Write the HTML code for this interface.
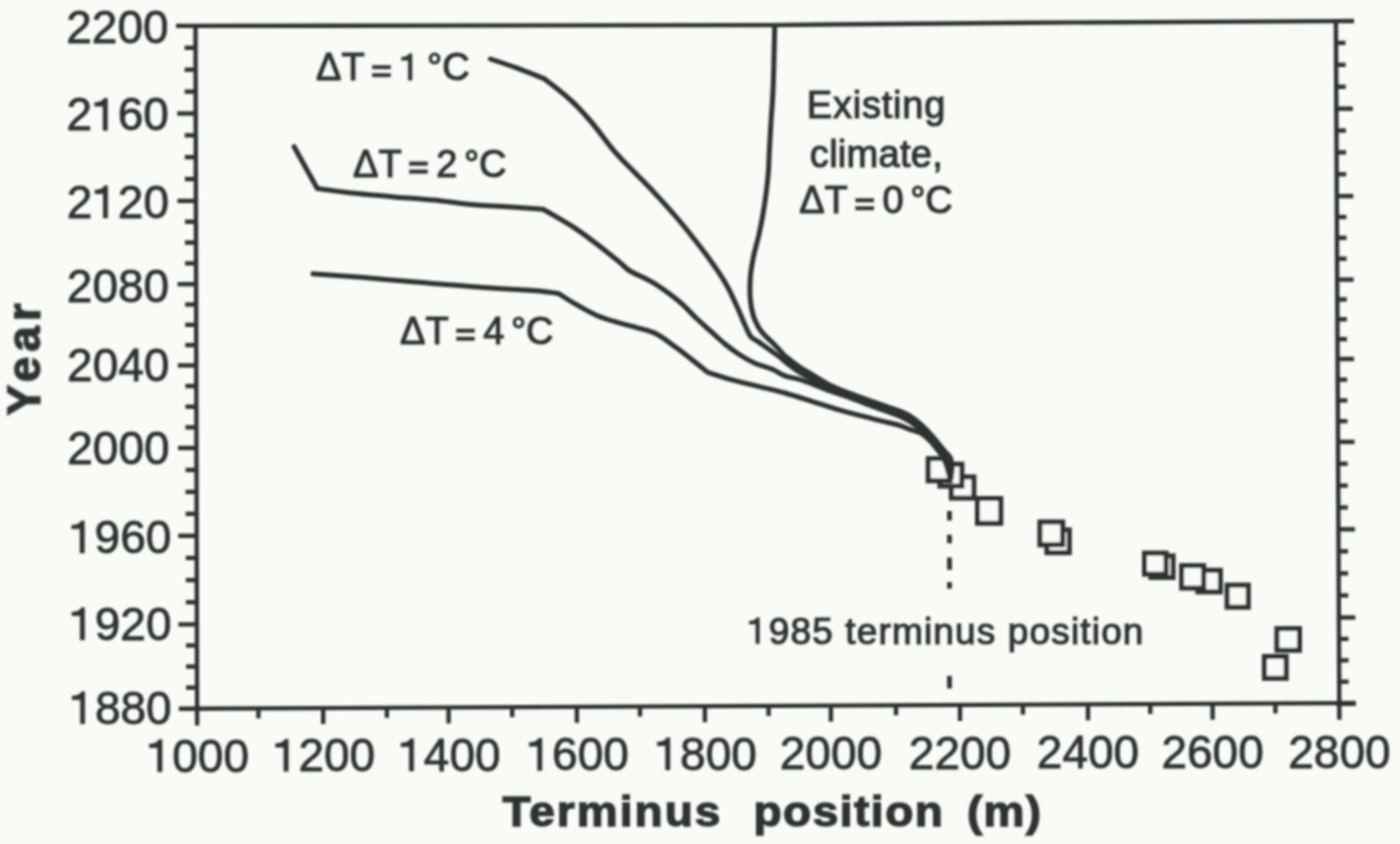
<!DOCTYPE html>
<html><head><meta charset="utf-8"><title>Terminus position vs Year</title>
<style>
html,body{margin:0;padding:0;background:#f9fbf7;overflow:hidden;}
svg{display:block;}
text{font-family:"Liberation Sans",sans-serif;fill:#2e3333;stroke:#2e3333;}
.tick{font-size:46px;stroke-width:0.8px;}
.ann{font-size:38px;stroke-width:1.1px;}
.ttl{font-size:43px;font-weight:bold;stroke-width:1.3px;}
.h1{fill-opacity:0;stroke-opacity:0;}
</style></head>
<body>
<svg width="1400" height="844" viewBox="0 0 1400 844">
<defs><filter id="soft" x="-5%" y="-5%" width="110%" height="110%"><feGaussianBlur stdDeviation="0.85"/></filter></defs>
<rect width="1400" height="844" fill="#f9fbf7"/>
<g filter="url(#soft)">
<g fill="none" stroke="#2e3333" stroke-width="4.4" stroke-linecap="butt">
<polyline points="176,25.9 770,25.1 1030,22.7 1354,21.0" />
<line x1="195.50" y1="24" x2="197.14" y2="725.6" />
<line x1="1335.89" y1="19.3" x2="1339.38" y2="719.7" />
<line x1="178.9" y1="708.79" x2="1355.9" y2="703.02" />
<line x1="195.55" y1="47.80" x2="184.55" y2="47.80" />
<line x1="195.60" y1="69.70" x2="184.60" y2="69.70" />
<line x1="195.65" y1="91.60" x2="184.65" y2="91.60" />
<line x1="195.71" y1="113.50" x2="177.21" y2="113.50" />
<line x1="195.76" y1="135.35" x2="184.76" y2="135.35" />
<line x1="195.81" y1="157.20" x2="184.81" y2="157.20" />
<line x1="195.86" y1="179.05" x2="184.86" y2="179.05" />
<line x1="195.91" y1="200.90" x2="177.41" y2="200.90" />
<line x1="195.96" y1="221.72" x2="184.96" y2="221.72" />
<line x1="196.01" y1="242.55" x2="185.01" y2="242.55" />
<line x1="196.06" y1="263.38" x2="185.06" y2="263.38" />
<line x1="196.11" y1="284.20" x2="177.61" y2="284.20" />
<line x1="196.15" y1="304.50" x2="185.15" y2="304.50" />
<line x1="196.20" y1="324.80" x2="185.20" y2="324.80" />
<line x1="196.25" y1="345.10" x2="185.25" y2="345.10" />
<line x1="196.30" y1="365.40" x2="177.80" y2="365.40" />
<line x1="196.34" y1="386.05" x2="185.34" y2="386.05" />
<line x1="196.39" y1="406.70" x2="185.39" y2="406.70" />
<line x1="196.44" y1="427.35" x2="185.44" y2="427.35" />
<line x1="196.49" y1="448.00" x2="177.99" y2="448.00" />
<line x1="196.54" y1="469.95" x2="185.54" y2="469.95" />
<line x1="196.59" y1="491.90" x2="185.59" y2="491.90" />
<line x1="196.64" y1="513.85" x2="185.64" y2="513.85" />
<line x1="196.69" y1="535.80" x2="178.19" y2="535.80" />
<line x1="196.75" y1="557.95" x2="185.75" y2="557.95" />
<line x1="196.80" y1="580.10" x2="185.80" y2="580.10" />
<line x1="196.85" y1="602.25" x2="185.85" y2="602.25" />
<line x1="196.90" y1="624.40" x2="178.40" y2="624.40" />
<line x1="196.95" y1="645.48" x2="185.95" y2="645.48" />
<line x1="197.00" y1="666.55" x2="186.00" y2="666.55" />
<line x1="197.05" y1="687.62" x2="186.05" y2="687.62" />
<line x1="1336.01" y1="42.92" x2="1345.51" y2="42.92" />
<line x1="1336.12" y1="64.85" x2="1345.62" y2="64.85" />
<line x1="1336.23" y1="86.78" x2="1345.73" y2="86.78" />
<line x1="1336.34" y1="108.70" x2="1352.84" y2="108.70" />
<line x1="1336.45" y1="130.55" x2="1345.95" y2="130.55" />
<line x1="1336.55" y1="152.40" x2="1346.05" y2="152.40" />
<line x1="1336.66" y1="174.25" x2="1346.16" y2="174.25" />
<line x1="1336.77" y1="196.10" x2="1353.27" y2="196.10" />
<line x1="1336.88" y1="216.97" x2="1346.38" y2="216.97" />
<line x1="1336.98" y1="237.85" x2="1346.48" y2="237.85" />
<line x1="1337.08" y1="258.73" x2="1346.58" y2="258.73" />
<line x1="1337.19" y1="279.60" x2="1353.69" y2="279.60" />
<line x1="1337.29" y1="299.45" x2="1346.79" y2="299.45" />
<line x1="1337.39" y1="319.30" x2="1346.89" y2="319.30" />
<line x1="1337.49" y1="339.15" x2="1346.99" y2="339.15" />
<line x1="1337.58" y1="359.00" x2="1354.08" y2="359.00" />
<line x1="1337.69" y1="379.73" x2="1347.19" y2="379.73" />
<line x1="1337.79" y1="400.45" x2="1347.29" y2="400.45" />
<line x1="1337.89" y1="421.17" x2="1347.39" y2="421.17" />
<line x1="1338.00" y1="441.90" x2="1354.50" y2="441.90" />
<line x1="1338.11" y1="463.75" x2="1347.61" y2="463.75" />
<line x1="1338.22" y1="485.60" x2="1347.72" y2="485.60" />
<line x1="1338.32" y1="507.45" x2="1347.82" y2="507.45" />
<line x1="1338.43" y1="529.30" x2="1354.93" y2="529.30" />
<line x1="1338.54" y1="551.35" x2="1348.04" y2="551.35" />
<line x1="1338.65" y1="573.40" x2="1348.15" y2="573.40" />
<line x1="1338.76" y1="595.45" x2="1348.26" y2="595.45" />
<line x1="1338.87" y1="617.50" x2="1355.37" y2="617.50" />
<line x1="1338.98" y1="638.90" x2="1348.48" y2="638.90" />
<line x1="1339.09" y1="660.30" x2="1348.59" y2="660.30" />
<line x1="1339.19" y1="681.70" x2="1348.69" y2="681.70" />
<line x1="323.20" y1="708.08" x2="323.20" y2="724.08" />
<line x1="448.60" y1="707.47" x2="448.60" y2="723.47" />
<line x1="576.90" y1="706.84" x2="576.90" y2="722.84" />
<line x1="704.90" y1="706.21" x2="704.90" y2="722.21" />
<line x1="830.90" y1="705.59" x2="830.90" y2="721.59" />
<line x1="960.00" y1="704.96" x2="960.00" y2="720.96" />
<line x1="1088.00" y1="704.33" x2="1088.00" y2="720.33" />
<line x1="1212.60" y1="703.72" x2="1212.60" y2="719.72" />
<line x1="258.40" y1="708.40" x2="258.40" y2="718.40" />
<line x1="386.90" y1="707.77" x2="386.90" y2="717.77" />
<line x1="512.20" y1="707.15" x2="512.20" y2="717.15" />
<line x1="640.00" y1="706.53" x2="640.00" y2="716.53" />
<line x1="768.60" y1="705.90" x2="768.60" y2="715.90" />
<line x1="896.00" y1="705.27" x2="896.00" y2="715.27" />
<line x1="1022.90" y1="704.65" x2="1022.90" y2="714.65" />
<line x1="1150.30" y1="704.03" x2="1150.30" y2="714.03" />
<line x1="1275.40" y1="703.41" x2="1275.40" y2="713.41" />
</g>
<g fill="#f9fbf7" stroke="#2e3333" stroke-width="5.0">
<rect x="977.50" y="498.50" width="23.30" height="24.80" />
<rect x="951.30" y="476.90" width="22.60" height="21.20" />
<rect x="939.90" y="464.20" width="22.00" height="21.90" />
<rect x="928.20" y="458.60" width="21.90" height="22.20" />
<rect x="1046.90" y="529.90" width="22.40" height="22.80" />
<rect x="1039.90" y="522.00" width="22.80" height="22.80" />
<rect x="1227.10" y="585.10" width="21.20" height="22.10" />
<rect x="1197.90" y="570.30" width="22.50" height="21.60" />
<rect x="1150.90" y="555.90" width="22.20" height="21.60" />
<rect x="1144.50" y="553.10" width="21.60" height="21.10" />
<rect x="1181.60" y="565.60" width="22.10" height="22.50" />
<rect x="1264.40" y="656.50" width="21.80" height="21.80" />
<rect x="1276.90" y="628.60" width="22.60" height="21.70" />
</g>
<g stroke="#2e3333" stroke-width="4.8" stroke-linecap="butt">
<line x1="949.4" y1="511.0" x2="949.6" y2="520.4" />
<line x1="949.4" y1="534.8" x2="949.6" y2="543.2" />
<line x1="949.4" y1="557.5" x2="949.6" y2="569.7" />
<line x1="949.4" y1="582.1" x2="949.6" y2="588.6" />
<line x1="949.4" y1="675.9" x2="949.6" y2="688.4" />
</g>
<g fill="none" stroke="#2e3333" stroke-width="5.0" stroke-linejoin="round" stroke-linecap="round">
<path d="M774.7 26.0C774.7 26.0 773.8 69.5 773.2 85.8C772.6 102.1 771.5 113.0 770.9 123.7C770.3 134.4 769.8 142.1 769.4 150.0C769.0 157.9 768.9 164.2 768.4 171.3C767.9 178.4 767.1 185.5 766.2 192.6C765.3 199.7 764.2 206.9 763.0 214.0C761.8 221.1 760.4 228.2 758.8 235.3C757.2 242.4 754.9 249.5 753.5 256.6C752.1 263.7 750.8 270.8 750.3 277.9C749.8 285.0 749.8 292.9 750.3 299.3C750.8 305.7 752.0 311.5 753.5 316.3C755.0 321.1 757.4 325.3 759.1 328.3C760.9 331.3 761.7 332.1 764.0 334.5C766.3 336.9 769.8 340.0 772.8 343.0C775.8 346.0 779.7 350.2 781.7 352.4C783.7 354.6 782.1 353.6 785.0 356.0C787.9 358.4 794.5 363.6 799.2 366.8C803.9 370.0 808.7 372.5 813.4 375.3C818.1 378.1 822.3 381.2 827.6 383.9C832.9 386.6 837.4 388.5 845.0 391.5C852.6 394.5 864.2 398.6 873.0 401.8C881.8 405.0 892.0 408.2 898.0 410.5C904.0 412.8 905.2 413.2 909.0 415.5C912.8 417.8 917.2 421.2 920.8 424.4C924.4 427.5 927.9 431.3 930.7 434.4C933.6 437.5 935.5 440.1 937.9 442.9C940.2 445.7 942.8 448.7 944.8 451.2C946.8 453.7 949.0 455.1 950.2 457.8C951.4 460.5 952.0 463.8 952.1 467.2C952.2 470.6 951.0 478.0 951.0 478.0" />
<path d="M490.4 59.0C490.4 59.0 508.9 65.1 517.9 68.4C526.9 71.7 544.5 78.9 544.5 78.9C544.5 78.9 561.6 91.7 569.3 98.8C577.0 105.9 583.6 113.0 590.9 121.5C598.2 130.0 606.7 142.1 613.2 149.8C619.7 157.5 624.3 161.8 629.8 167.5C635.3 173.2 641.1 178.7 646.4 184.2C651.7 189.7 656.3 194.8 661.5 200.5C666.7 206.2 672.0 212.0 677.5 218.5C683.0 225.0 689.7 233.4 694.5 239.5C699.3 245.6 702.6 249.8 706.5 255.1C710.4 260.4 714.4 266.0 717.9 271.2C721.4 276.4 724.8 281.8 727.4 286.4C730.0 291.0 731.6 294.9 733.5 299.0C735.4 303.1 737.2 306.8 739.0 311.0C740.8 315.2 742.5 319.7 744.5 324.0C746.5 328.3 748.5 333.7 750.8 336.6C753.1 339.5 755.5 339.7 758.2 341.6C760.9 343.5 764.1 345.9 766.8 347.8C769.5 349.7 772.0 351.4 774.5 353.2C777.0 355.0 780.0 357.1 781.7 358.5C783.5 359.9 782.1 359.2 785.0 361.5C787.9 363.8 794.5 368.9 799.2 372.0C803.9 375.1 808.7 377.3 813.4 379.8C818.1 382.3 822.3 384.7 827.6 387.0C832.9 389.3 837.4 390.6 845.0 393.5C852.6 396.4 864.2 400.9 873.0 404.2C881.8 407.4 892.0 410.6 898.0 413.0C904.0 415.4 905.3 416.2 909.0 418.5C912.7 420.8 916.5 424.0 920.0 427.0C923.5 430.0 927.1 433.6 930.0 436.5C932.9 439.4 935.2 441.8 937.5 444.5C939.8 447.2 942.1 450.4 944.0 453.0C945.9 455.6 947.8 457.4 949.0 460.0C950.2 462.6 950.8 465.5 951.0 468.5C951.2 471.5 950.5 478.0 950.5 478.0" />
<path d="M294.1 146.7L317.3 188.5C317.3 188.5 341.9 192.0 357.1 193.6C372.3 195.2 394.8 196.9 408.6 198.1C422.4 199.3 430.0 199.7 440.0 200.7C450.0 201.7 456.7 203.2 468.6 204.3C480.5 205.4 499.0 206.3 511.4 207.1C523.8 207.9 542.9 209.3 542.9 209.3C542.9 209.3 548.8 212.5 554.3 215.7C559.8 218.9 568.6 223.8 575.7 228.6C582.8 233.4 590.0 238.8 597.1 244.3C604.2 249.8 613.1 256.9 618.6 261.4C624.1 265.8 624.6 267.7 630.0 271.0C635.4 274.3 644.6 277.8 650.9 281.4C657.2 285.0 662.8 288.9 668.0 292.7C673.2 296.5 677.5 299.8 682.2 304.1C686.9 308.4 691.7 313.8 696.4 318.3C701.1 322.8 705.8 326.8 710.6 331.1C715.4 335.4 720.1 340.0 725.0 344.0C729.9 348.0 735.0 351.8 740.0 355.0C745.0 358.2 749.5 360.8 755.0 363.2C760.5 365.6 767.8 367.4 772.8 369.5C777.8 371.6 780.6 374.2 785.0 375.9C789.4 377.5 794.5 378.0 799.2 379.4C803.9 380.8 808.7 382.6 813.4 384.4C818.1 386.2 822.3 388.2 827.6 390.1C832.9 392.0 837.4 393.3 845.0 396.0C852.6 398.7 864.2 403.2 873.0 406.5C881.8 409.8 892.0 413.1 898.0 415.5C904.0 417.9 905.2 418.6 909.0 421.0C912.8 423.4 917.4 427.1 920.9 430.0C924.4 432.9 927.3 435.7 930.0 438.5C932.7 441.3 935.0 444.2 937.0 447.0C939.0 449.8 940.4 451.9 942.0 455.0C943.6 458.1 945.1 461.5 946.4 465.3C947.7 469.1 950.0 478.0 950.0 478.0" />
<path d="M312.9 273.8C312.9 273.8 347.2 276.2 364.3 277.6C381.4 279.0 403.1 281.0 415.7 282.1C428.3 283.2 428.8 283.1 440.0 284.0C451.2 284.9 468.6 286.5 482.9 287.5C497.2 288.5 516.2 289.4 525.7 290.0C535.2 290.6 534.5 290.4 540.0 291.0C545.5 291.6 558.5 293.5 558.5 293.5C558.5 293.5 569.1 300.4 575.5 304.1C581.9 307.8 589.8 312.4 596.9 315.5C604.0 318.6 611.1 320.5 618.2 322.6C625.3 324.7 633.1 326.4 639.5 328.3C645.9 330.2 650.7 330.9 656.6 334.0C662.5 337.1 668.9 342.3 675.1 346.8C681.3 351.3 688.2 356.7 693.6 361.0C699.0 365.3 707.8 372.4 707.8 372.4C707.8 372.4 723.7 377.6 732.1 379.9C740.5 382.2 749.4 384.2 758.2 386.4C767.0 388.6 775.8 390.4 785.0 393.0C794.2 395.6 804.2 398.9 813.4 401.8C822.6 404.7 830.1 407.4 840.0 410.2C849.9 413.0 863.3 416.3 873.0 418.8C882.7 421.3 892.7 423.6 898.0 425.0C903.3 426.4 902.5 426.6 905.0 427.5C907.5 428.4 910.4 429.6 913.0 430.5C915.6 431.4 918.1 431.5 920.9 433.2C923.7 434.9 927.2 438.0 930.0 440.7C932.8 443.4 935.4 447.1 937.4 449.6C939.4 452.1 940.5 453.0 942.0 455.6C943.5 458.2 945.1 461.7 946.4 465.3C947.7 468.9 950.0 477.0 950.0 477.0" />
</g>
<text x="168.6" y="43.3" text-anchor="end" class="tick">2200</text>
<text x="168.8" y="130.4" text-anchor="end" class="tick">2<tspan class="h1">1</tspan>60</text>
<text x="169.0" y="217.9" text-anchor="end" class="tick">2<tspan class="h1">1</tspan>20</text>
<text x="169.2" y="301.7" text-anchor="end" class="tick">2080</text>
<text x="169.4" y="381.3" text-anchor="end" class="tick">2040</text>
<text x="169.6" y="464.2" text-anchor="end" class="tick">2000</text>
<text x="171.3" y="553.0" text-anchor="end" class="tick"><tspan class="h1">1</tspan>960</text>
<text x="171.5" y="639.9" text-anchor="end" class="tick"><tspan class="h1">1</tspan>920</text>
<text x="171.7" y="723.8" text-anchor="end" class="tick"><tspan class="h1">1</tspan>880</text>
<text x="197.8" y="771.8" text-anchor="middle" class="tick"><tspan class="h1">1</tspan>000</text>
<text x="324.0" y="771.3" text-anchor="middle" class="tick"><tspan class="h1">1</tspan>200</text>
<text x="449.4" y="770.9" text-anchor="middle" class="tick"><tspan class="h1">1</tspan>400</text>
<text x="577.7" y="770.4" text-anchor="middle" class="tick"><tspan class="h1">1</tspan>600</text>
<text x="705.7" y="769.9" text-anchor="middle" class="tick"><tspan class="h1">1</tspan>800</text>
<text x="830.9" y="769.4" text-anchor="middle" class="tick">2000</text>
<text x="960.0" y="768.9" text-anchor="middle" class="tick">2200</text>
<text x="1088.0" y="768.4" text-anchor="middle" class="tick">2400</text>
<text x="1212.6" y="768.0" text-anchor="middle" class="tick">2600</text>
<text x="1339.4" y="767.5" text-anchor="middle" class="tick">2800</text>
<text class="ann" x="316" y="80.2" word-spacing="-4">ΔT <tspan class="h1">=</tspan> <tspan class="h1">1</tspan> °C</text>
<text class="ann" x="353" y="176.6" word-spacing="-4">ΔT <tspan class="h1">=</tspan> 2 °C</text>
<text class="ann" x="400" y="343.7" word-spacing="-4">ΔT <tspan class="h1">=</tspan> 4 °C</text>
<text class="ann" x="876.5" y="118.2" text-anchor="middle" letter-spacing="0.8">Existing</text>
<text class="ann" x="876.5" y="167.1" text-anchor="middle" letter-spacing="0.3">climate,</text>
<text class="ann" x="876" y="213.3" text-anchor="middle" word-spacing="-4">ΔT <tspan class="h1">=</tspan> 0 °C</text>
<text class="ann" x="747" y="643.5" style="font-size:37px" letter-spacing="1.15"><tspan class="h1">1</tspan>985 terminus position</text>
<text class="ttl" transform="translate(502.5 826) scale(1.07 1)" letter-spacing="1.9">Terminus</text>
<text class="ttl" transform="translate(753.5 826) scale(1.07 1)" letter-spacing="1.4">position</text>
<text class="ttl" transform="translate(967 826) scale(1.07 1)" letter-spacing="1.2">(m)</text>
<text class="ttl" transform="translate(39.8,415.5) rotate(-90)" style="font-size:46px" letter-spacing="5">Year</text>
<g fill="#2e3333" stroke="#2e3333" stroke-width="0.5">
<path d="M107.44 130.40L107.44 98.29L104.09 98.29C103.07 100.96 99.85 102.34 94.79 102.57L94.79 106.25L103.07 106.25L103.07 130.40Z"/>
<path d="M107.64 217.90L107.64 185.79L104.29 185.79C103.27 188.46 100.05 189.84 94.99 190.07L94.99 193.75L103.27 193.75L103.27 217.90Z"/>
<path d="M84.37 553.00L84.37 520.89L81.01 520.89C80.00 523.56 76.78 524.94 71.72 525.17L71.72 528.85L80.00 528.85L80.00 553.00Z"/>
<path d="M84.57 639.90L84.57 607.79L81.21 607.79C80.20 610.46 76.98 611.84 71.92 612.07L71.92 615.75L80.20 615.75L80.20 639.90Z"/>
<path d="M84.77 723.80L84.77 691.69L81.41 691.69C80.40 694.36 77.18 695.74 72.12 695.97L72.12 699.65L80.40 699.65L80.40 723.80Z"/>
<path d="M162.04 771.80L162.04 739.69L158.68 739.69C157.67 742.36 154.45 743.74 149.39 743.97L149.39 747.65L157.67 747.65L157.67 771.80Z"/>
<path d="M288.24 771.30L288.24 739.19L284.88 739.19C283.87 741.86 280.65 743.24 275.59 743.47L275.59 747.15L283.87 747.15L283.87 771.30Z"/>
<path d="M413.64 770.90L413.64 738.79L410.28 738.79C409.27 741.46 406.05 742.84 400.99 743.07L400.99 746.75L409.27 746.75L409.27 770.90Z"/>
<path d="M541.94 770.40L541.94 738.29L538.58 738.29C537.57 740.96 534.35 742.34 529.29 742.57L529.29 746.25L537.57 746.25L537.57 770.40Z"/>
<path d="M669.94 769.90L669.94 737.79L666.58 737.79C665.57 740.46 662.35 741.84 657.29 742.07L657.29 745.75L665.57 745.75L665.57 769.90Z"/>
<rect x="372.57" y="65.50" width="18.0" height="3.4"/><rect x="372.57" y="73.50" width="18.0" height="3.4"/>
<path d="M411.96 80.20L411.96 53.68L409.19 53.68C408.35 55.88 405.69 57.02 401.51 57.21L401.51 60.25L408.35 60.25L408.35 80.20Z"/>
<rect x="409.57" y="161.90" width="18.0" height="3.4"/><rect x="409.57" y="169.90" width="18.0" height="3.4"/>
<rect x="456.57" y="329.00" width="18.0" height="3.4"/><rect x="456.57" y="337.00" width="18.0" height="3.4"/>
<rect x="855.79" y="198.60" width="18.0" height="3.4"/><rect x="855.79" y="206.60" width="18.0" height="3.4"/>
<path d="M759.39 643.50L759.39 617.67L756.69 617.67C755.88 619.82 753.29 620.93 749.22 621.12L749.22 624.08L755.88 624.08L755.88 643.50Z"/>
</g>
</g>
</svg>
</body></html>
